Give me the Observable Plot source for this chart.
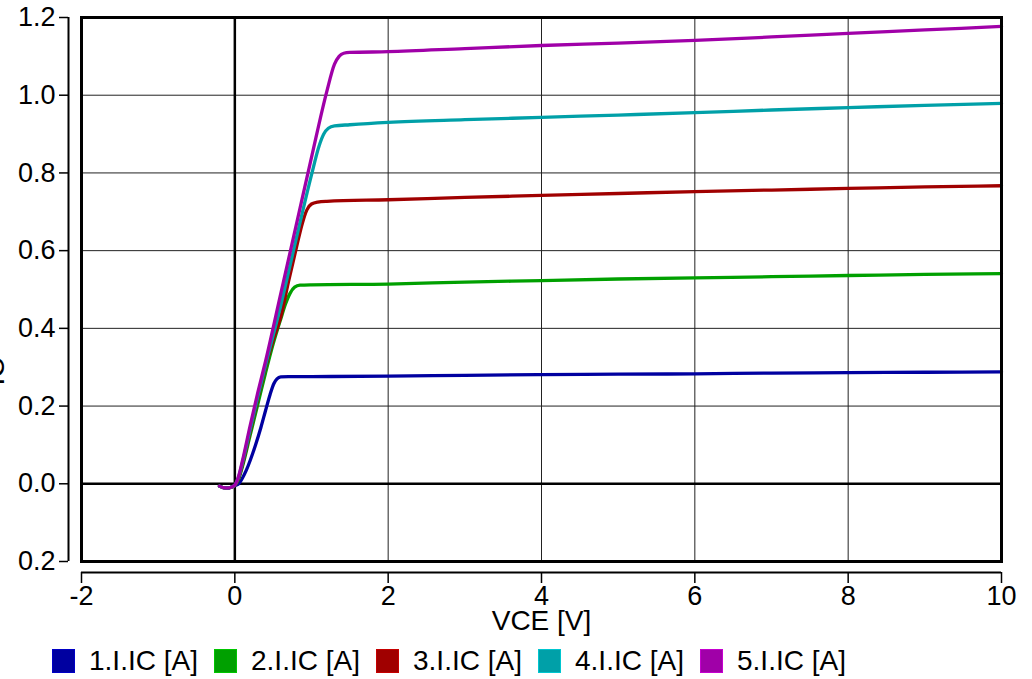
<!DOCTYPE html>
<html>
<head>
<meta charset="utf-8">
<script src="https://cdn.jsdelivr.net/npm/d3@7"></script>
<script src="https://cdn.jsdelivr.net/npm/@observablehq/plot@0.6"></script>
<style>
  html, body { margin: 0; padding: 0; background: #fff; }
  body { width: 1032px; height: 679px; overflow: hidden; font-family: "Liberation Sans", Arial, sans-serif; }
  #legend { display: flex; margin: 8px 0 0 52px; height: 26px; align-items: center; }
  .item { display: flex; align-items: center; width: 162px; }
  .sw { width: 21px; height: 22px; border: 1px solid; box-sizing: content-box; }
  .lbl { margin-left: 14px; font-size: 28px; line-height: 26px; color: #000; }
</style>
</head>
<body>
<div id="chart"></div>
<div id="legend"></div>
<script>
// ---- data ----
const seriesNames = ["1.I.IC [A]", "2.I.IC [A]", "3.I.IC [A]", "4.I.IC [A]", "5.I.IC [A]"];
const seriesColors = ["#0000a0", "#00a000", "#a00000", "#00a0a8", "#a000a8"];

const vce1 = [-0.2,-0.15,-0.1,-0.05,0,0.05,0.1,0.15,0.2,0.27,0.34,0.4,0.46,0.51,0.55,0.6,0.7,1,2,3,4,5,6,7,8,9,10];
const ic1  = [-0.006,-0.01,-0.011,-0.009,-0.005,0,0.015,0.035,0.06,0.10,0.145,0.188,0.23,0.258,0.27,0.275,0.276,0.276,0.277,0.279,0.281,0.282,0.283,0.285,0.286,0.287,0.288];

const vce2 = [-0.2,-0.15,-0.1,-0.05,0,0.05,0.1,0.2,0.3,0.4,0.5,0.6,0.66,0.72,0.78,0.85,1,2,3,4,5,6,7,8,9,10];
const ic2  = [-0.006,-0.01,-0.011,-0.009,-0.004,0.012,0.045,0.125,0.205,0.285,0.36,0.425,0.462,0.49,0.506,0.511,0.512,0.514,0.519,0.523,0.527,0.530,0.533,0.536,0.539,0.541];

const vce3 = [-0.2,-0.15,-0.1,-0.05,0,0.05,0.1,0.2,0.3,0.4,0.5,0.6,0.7,0.8,0.88,0.94,1.0,1.08,1.2,2,3,4,5,6,7,8,9,10];
const ic3  = [-0.006,-0.01,-0.011,-0.009,-0.004,0.015,0.05,0.135,0.22,0.3,0.37,0.43,0.52,0.605,0.67,0.705,0.72,0.725,0.727,0.731,0.737,0.742,0.747,0.752,0.756,0.760,0.764,0.767];

const vce4 = [-0.2,-0.15,-0.1,-0.05,0,0.05,0.1,0.2,0.3,0.4,0.6,0.8,1.0,1.1,1.16,1.22,1.3,1.5,2,3,4,5,6,7,8,9,10];
const ic4  = [-0.006,-0.01,-0.011,-0.009,-0.003,0.018,0.055,0.14,0.225,0.305,0.46,0.63,0.795,0.87,0.9,0.915,0.921,0.924,0.930,0.937,0.943,0.949,0.955,0.962,0.968,0.974,0.979];

const vce5 = [-0.2,-0.15,-0.1,-0.05,0,0.05,0.1,0.2,0.3,0.4,0.6,0.8,1.0,1.2,1.3,1.36,1.42,1.5,2,3,4,5,6,7,8,9,10];
const ic5  = [-0.006,-0.01,-0.011,-0.009,-0.003,0.02,0.06,0.15,0.235,0.315,0.49,0.665,0.84,1.01,1.08,1.10,1.108,1.11,1.112,1.12,1.128,1.134,1.141,1.15,1.159,1.168,1.177];

const xTicks = [-2, 0, 2, 4, 6, 8, 10];
const xTickLabels = ["-2", "0", "2", "4", "6", "8", "10"];
const yTicks = [-0.2, 0, 0.2, 0.4, 0.6, 0.8, 1.0, 1.2];
const yTickLabels = ["0.2", "0.0", "0.2", "0.4", "0.6", "0.8", "1.0", "1.2"];
const xGrid = [2, 4, 6, 8];
const yGrid = [0.2, 0.4, 0.6, 0.8, 1.0];
const xTitle = "VCE [V]";
const yTitle = "IC";

// ---- build table ----
const xs = [vce1, vce2, vce3, vce4, vce5];
const ys = [ic1, ic2, ic3, ic4, ic5];
const rows = [];
xs.forEach((arr, s) => arr.forEach((v, i) => rows.push({vce: v, ic: ys[s][i], series: seriesNames[s]})));

const fmtX = d => xTickLabels[xTicks.findIndex(v => Math.abs(v - d) < 1e-9)];
const fmtY = d => yTickLabels[yTicks.findIndex(v => Math.abs(v - d) < 1e-9)];

const chart = Plot.plot({
  width: 1032,
  height: 640,
  marginLeft: 81,
  marginRight: 31,
  marginTop: 17,
  marginBottom: 79,
  style: {fontFamily: "'Liberation Sans', Arial, sans-serif", fontSize: "27px", color: "#000", background: "#fff", overflow: "visible"},
  x: {domain: [-2, 10], label: null},
  y: {domain: [-0.2, 1.2], label: null},
  color: {domain: seriesNames, range: seriesColors},
  marks: [
    Plot.gridX(xGrid, {stroke: "#222", strokeOpacity: 1, strokeWidth: 1}),
    Plot.gridY(yGrid, {stroke: "#222", strokeOpacity: 1, strokeWidth: 1}),
    Plot.ruleX([0], {stroke: "#000", strokeWidth: 2.5}),
    Plot.ruleY([0], {stroke: "#000", strokeWidth: 2.5}),
    Plot.line(rows, {x: "vce", y: "ic", z: "series", stroke: "series", strokeWidth: 3.3, curve: "monotone-x"}),
    Plot.frame({stroke: "#000", strokeWidth: 3}),
    // detached y axis
    Plot.ruleX([-2], {y1: -0.2, y2: 1.2, dx: -13, stroke: "#000", strokeWidth: 2}),
    Plot.axisY(yTicks, {anchor: "left", dx: -13, tickSize: 9, tickPadding: 4, tickFormat: fmtY, fontSize: 27, strokeWidth: 1.5, label: null}),
    // detached x axis
    Plot.ruleY([-0.2], {x1: -2, x2: 10, dy: 11, stroke: "#000", strokeWidth: 2}),
    Plot.axisX(xTicks, {anchor: "bottom", dy: 11, tickSize: 11, tickPadding: 2, tickFormat: fmtX, fontSize: 27, strokeWidth: 1.5, label: null}),
    Plot.text([xTitle], {frameAnchor: "bottom", dy: 68, fontSize: 28, fill: "#000"}),
    Plot.text([yTitle], {frameAnchor: "left", dx: -78, dy: 96, rotate: -90, lineAnchor: "bottom", fontSize: 28, fill: "#000"})
  ]
});
document.getElementById("chart").appendChild(chart);
chart.style.display = "block";

const legend = document.getElementById("legend");
seriesNames.forEach((name, i) => {
  const item = document.createElement("div");
  item.className = "item";
  const sw = document.createElement("div");
  sw.className = "sw";
  sw.style.background = seriesColors[i];
  sw.style.borderColor = d3.color(seriesColors[i]).brighter(0.6).formatHex();
  const lbl = document.createElement("span");
  lbl.className = "lbl";
  lbl.textContent = name;
  item.appendChild(sw);
  item.appendChild(lbl);
  legend.appendChild(item);
});
</script>
</body>
</html>
